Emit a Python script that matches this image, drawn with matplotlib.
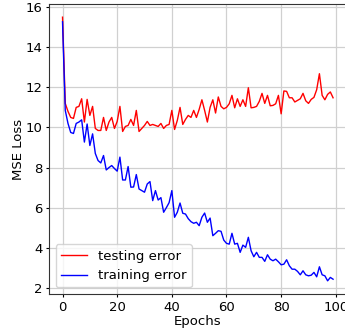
import matplotlib
matplotlib.use('Agg')
import matplotlib.pyplot as plt
import numpy as np

epochs = np.arange(100)

testing_error = [
    15.5, 11.2, 10.8, 10.5, 10.45, 11.0, 11.05, 11.43, 10.27, 11.4,
    10.6, 11.05, 9.95, 9.85, 9.85, 10.5, 9.85, 10.27, 10.5, 9.95,
    10.3, 11.05, 9.8, 10.05, 10.1, 10.4, 10.1, 10.85, 9.8, 9.95,
    10.1, 10.3, 10.1, 10.15, 10.1, 10.05, 10.2, 9.95, 10.1, 10.15,
    10.85, 9.9, 10.35, 11.0, 10.15, 10.4, 10.6, 10.5, 10.85, 10.5,
    10.9, 11.38, 10.85, 10.27, 11.0, 11.38, 10.72, 11.52, 11.05, 10.93,
    11.0, 11.18, 11.6, 10.98, 11.43, 11.05, 11.38, 11.05, 11.98, 10.98,
    11.0, 11.05, 11.3, 11.7, 11.2, 11.6, 11.08, 11.1, 11.18, 11.6,
    10.68, 11.82, 11.8, 11.48, 11.48, 11.27, 11.35, 11.43, 11.7, 11.33,
    11.2, 11.4, 11.5, 11.88, 12.68, 11.6, 11.38, 11.65, 11.77, 11.48,
]

training_error = [
    15.27, 10.85, 10.2, 9.75, 9.7, 10.2, 10.27, 10.38, 9.27, 10.17,
    9.1, 9.68, 8.7, 8.35, 8.23, 8.6, 7.88, 8.0, 8.1, 7.95,
    7.82, 8.52, 7.38, 7.38, 8.05, 7.02, 7.03, 7.65, 6.93, 6.85,
    6.77, 7.18, 7.3, 6.35, 6.85, 6.38, 6.5, 5.77, 6.0, 6.25,
    6.85, 5.52, 5.77, 6.23, 5.72, 5.68, 5.45, 5.3, 5.22, 5.27,
    5.1, 5.52, 5.73, 5.27, 5.48, 4.6, 4.72, 4.85, 4.82, 4.38,
    4.22, 4.18, 4.72, 4.18, 4.22, 3.77, 4.13, 4.02, 4.52, 3.85,
    3.55, 3.77, 3.52, 3.52, 3.32, 3.65, 3.43, 3.35, 3.43, 3.3,
    3.15, 3.18, 3.4, 3.1, 2.93, 2.93, 2.82, 2.65, 2.85, 2.65,
    2.6, 2.63, 2.77, 2.55, 3.05, 2.65, 2.6, 2.35, 2.52, 2.43,
]

plt.rcParams['font.size'] = 9.5

fig = plt.figure(figsize=(3.45, 3.32), dpi=100)
# axes runs a little past the right edge, as in the cropped original
ax = fig.add_axes([49 / 345, 38 / 332, 297.6 / 345, 290 / 332])
ax.plot(epochs, testing_error, color='r', linewidth=1.0, label='testing error')
ax.plot(epochs, training_error, color='b', linewidth=1.0, label='training error')
ax.grid(True, color='#d0d0d0', linewidth=0.9)
ax.set_xlabel('Epochs', labelpad=1)
ax.set_ylabel('MSE Loss', labelpad=0)
ax.set_xticks([0, 20, 40, 60, 80, 100])
ax.set_yticks([2, 4, 6, 8, 10, 12, 14, 16])
ax.tick_params(length=2.5, pad=2.2)
for s in ax.spines.values():
    s.set_color('#333333')
ax.legend(loc='lower left')

fig.savefig('out.png', dpi=100)
